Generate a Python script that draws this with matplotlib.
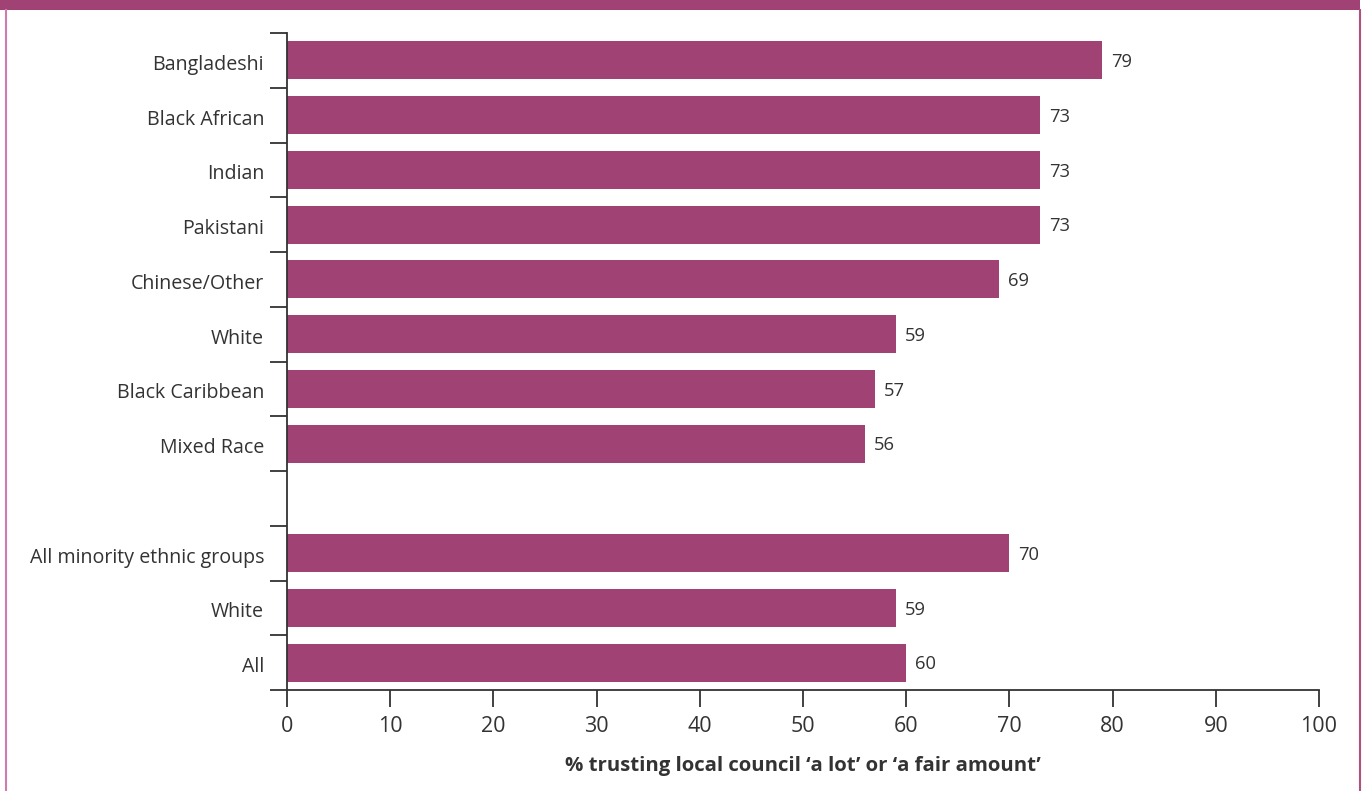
import matplotlib
matplotlib.use("Agg")
import matplotlib.pyplot as plt
from matplotlib.patches import Rectangle
from matplotlib.lines import Line2D
from matplotlib.transforms import ScaledTranslation

categories = ["Bangladeshi", "Black African", "Indian", "Pakistani", "Chinese/Other",
              "White", "Black Caribbean", "Mixed Race", "",
              "All minority ethnic groups", "White", "All"]
values = [79, 73, 73, 73, 69, 59, 57, 56, None, 70, 59, 60]
xticks = [0, 10, 20, 30, 40, 50, 60, 70, 80, 90, 100]
xlabel = "% trusting local council \u2018a lot\u2019 or \u2018a fair amount\u2019"

BAR = "#A14274"
TXT = "#333333"
plt.rcParams['font.family'] = ['Open Sans', 'DejaVu Sans']

W, H = 1363, 791
fig = plt.figure(figsize=(W / 100, H / 100), dpi=100)
fig.patch.set_facecolor("white")

ax = fig.add_axes([287 / W, 1 - 690 / H, (1319 - 287) / W, (690 - 33) / H])

pos = list(range(len(categories)))
for p, v in zip(pos, values):
    if v is None:
        continue
    ax.barh(p, v, height=0.69, color=BAR, zorder=2)
    ax.text(v + 0.85, p + 0.03, f"{v}", va="center", ha="left", fontsize=13.2, color=TXT)

ax.set_xlim(0, 100)
ax.set_ylim(len(categories) - 0.5, -0.5)
ax.set_xticks(xticks)
ax.set_xticklabels([str(t) for t in xticks], fontsize=15.5, color=TXT)
ax.set_yticks(pos)
ax.set_yticklabels(categories, fontsize=14.1, color=TXT)
ax.set_yticks([p - 0.5 for p in range(len(categories) + 1)], minor=True)
ax.tick_params(axis="y", which="major", length=0, pad=16.5)
ax.tick_params(axis="y", which="minor", length=12, width=1.3, color=TXT, direction="out")
ax.tick_params(axis="x", which="major", length=12, width=1.3, color=TXT, direction="out", pad=6.5)
shift = ScaledTranslation(0, -2 / 100, fig.dpi_scale_trans)
for lbl in ax.get_yticklabels():
    lbl.set_transform(lbl.get_transform() + shift)

for s in ["top", "right"]:
    ax.spines[s].set_visible(False)
for s in ["left", "bottom"]:
    ax.spines[s].set_color(TXT)
    ax.spines[s].set_linewidth(1.3)

ax.set_xlabel(xlabel, fontsize=14.7, fontweight="bold", color=TXT, labelpad=14)

# frame decoration
fig.add_artist(Rectangle((0, 1 - 10 / H), 1360 / W, 10 / H, transform=fig.transFigure,
                         facecolor=BAR, edgecolor="none"))
fig.add_artist(Line2D([5.5 / W, 5.5 / W], [0, 1 - 10 / H], transform=fig.transFigure,
                      color="#D07AAE", linewidth=1.5))
fig.add_artist(Line2D([1359.5 / W, 1359.5 / W], [0, 1 - 10 / H], transform=fig.transFigure,
                      color="#B0507F", linewidth=1.5))

fig.savefig("out.png", dpi=100, facecolor="white")
